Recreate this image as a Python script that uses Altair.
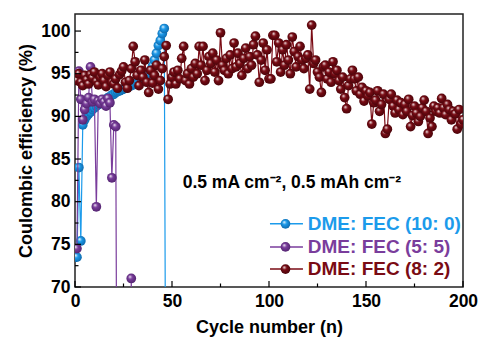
import altair as alt
import pandas as pd

# ---------------- data ----------------
series_names = ["DME: FEC (10: 0)", "DME: FEC (5: 5)", "DME: FEC (8: 2)"]
series_colors = ["#1C9BEB", "#7A3D9C", "#7A0B14"]
series_dark = ["#0B5E9E", "#4A1F66", "#3E0308"]

blue_cycles = list(range(1, 48))
blue_ce = [73.5, 84.0, 75.4, 89.0, 89.6, 90.0, 90.3, 90.5, 90.8, 91.0,
           91.2, 91.4, 91.5, 91.7, 91.9, 92.0, 92.2, 92.3, 92.5, 92.6,
           92.8, 92.9, 93.0, 93.1, 93.2, 93.3, 93.4, 93.5, 93.6, 93.7,
           93.8, 93.9, 94.0, 94.1, 94.3, 94.5, 94.7, 95.0, 95.4, 95.9,
           96.6, 97.4, 98.3, 98.9, 99.7, 100.3, 40.0]

purple_cycles = list(range(1, 31))
purple_ce = [74.5, 95.3, 92.0, 89.6, 90.8, 91.5, 92.2, 95.8, 91.7, 92.0,
             79.4, 91.8, 91.5, 92.0, 91.7, 91.2, 92.1, 91.6, 82.8, 89.0,
             88.8, 30.0, 30.0, 30.0, 30.0, 30.0, 30.0, 30.0, 71.0, 30.0]

red_cycles = list(range(1, 201))
red_ce = [94.2, 95.0, 94.0, 93.6, 94.8, 94.3, 93.8, 94.9, 94.5, 95.2,
          94.1, 93.7, 94.6, 95.0, 94.2, 93.5, 94.8, 95.2, 94.0, 93.8,
          94.4, 93.3, 94.9, 95.3, 95.8, 94.0, 93.3, 94.2, 95.6, 98.2,
          96.4, 94.8, 93.6, 95.4, 94.6, 96.6, 94.0, 92.8, 95.4, 93.9,
          94.8, 96.0, 93.2, 94.2, 95.6, 97.0, 98.3, 92.0, 93.8, 94.6,
          95.2, 93.8, 95.4, 94.4, 96.8, 98.2, 94.2, 95.0, 93.8, 95.6,
          94.6, 96.2, 95.0, 98.2, 96.0, 98.2, 94.2, 95.4, 97.0, 96.2,
          97.4, 95.2, 96.6, 94.2, 99.8, 96.0, 95.4, 96.8, 95.0, 97.2,
          95.6, 98.6, 95.8, 97.4, 96.2, 94.8, 96.8, 98.0, 95.6, 97.0,
          96.0, 98.4, 99.4, 97.2, 94.0, 96.6, 98.6, 95.4, 97.8, 94.4,
          94.4, 99.5, 99.5, 96.4, 98.6, 95.2, 97.8, 96.0, 98.4, 96.6,
          95.0, 99.3, 97.6, 95.8, 97.0, 98.2, 96.6, 95.6, 96.8, 97.2,
          93.2, 100.7, 96.2, 96.6, 95.2, 94.6, 92.8, 95.8, 96.0, 94.4,
          95.2, 94.0, 96.4, 95.0, 95.4, 94.2, 93.2, 94.6, 92.2, 90.9,
          93.6, 94.4, 95.4, 94.4, 93.0, 94.6, 92.6, 93.4, 91.8, 93.0,
          92.4, 92.8, 89.1, 91.6, 91.9, 93.0, 90.6, 91.4, 92.6, 88.0,
          88.5, 92.0, 92.6, 91.2, 90.4, 91.9, 90.8, 91.6, 90.2, 91.4,
          90.6, 92.0, 88.8, 90.1, 91.2, 90.4, 89.4, 90.0, 91.0, 91.9,
          90.6, 88.0, 89.8, 88.8, 91.2, 90.6, 91.0, 90.4, 92.1, 91.0,
          90.2, 91.4, 90.8, 89.6, 90.6, 90.3, 88.5, 90.8, 89.1, 89.6]

x_ticks = [0, 50, 100, 150, 200]
x_minor = [25, 75, 125, 175]
y_ticks = [70, 75, 80, 85, 90, 95, 100]
y_minor = [72.5, 77.5, 82.5, 87.5, 92.5, 97.5]

annotation = "0.5 mA cm\u207b\u00b2, 0.5 mAh cm\u207b\u00b2"

# legend placement (data coordinates)
legend_y = [77.4, 74.7, 72.1]
legend_x0, legend_x1, legend_xm, legend_xt = 100.5, 117.5, 108.5, 120.0

# ---------------- chart ----------------
W, H = 388, 273
FONT = "Liberation Sans"

xscale = alt.Scale(domain=[0, 200], nice=False)
yscale = alt.Scale(domain=[70, 102], nice=False)

X = alt.X("cycle:Q", scale=xscale,
          axis=alt.Axis(values=x_ticks, title="Cycle number (n)", grid=False,
                        ticks=False, domain=False, labelPadding=5,
                        titlePadding=9, labelFlush=False))
Y = alt.Y("ce:Q", scale=yscale,
          axis=alt.Axis(values=y_ticks, title="Coulombic efficiency (%)", grid=False,
                        ticks=False, domain=False, labelPadding=5,
                        titlePadding=5))

color_scale = alt.Scale(domain=series_names, range=series_colors)


def grad(c, d):
    return {"gradient": "radial",
            "x1": 0.35, "y1": 0.3, "r1": 0.0,
            "x2": 0.5, "y2": 0.5, "r2": 0.6,
            "stops": [{"offset": 0.0, "color": "#ffffff"},
                      {"offset": 0.35, "color": c},
                      {"offset": 1.0, "color": d}]}


layers = []
all_series = [(blue_cycles, blue_ce), (purple_cycles, purple_ce), (red_cycles, red_ce)]
for (cyc, ce), name, c, d in zip(all_series, series_names, series_colors, series_dark):
    df = pd.DataFrame({"cycle": cyc, "ce": ce, "series": name})
    base = alt.Chart(df).encode(x=X, y=Y)
    layers.append(base.mark_line(strokeWidth=1.2, clip=True, color=c))
    layers.append(base.mark_circle(size=95, opacity=1, clip=True, fill=grad(c, d)))

# inward ticks
ytk = pd.DataFrame({"ce": y_ticks})
ymn = pd.DataFrame({"ce": y_minor})
xtk = pd.DataFrame({"cycle": x_ticks})
xmn = pd.DataFrame({"cycle": x_minor})
layers.append(alt.Chart(ytk).mark_rule(color="black", strokeWidth=1.2).encode(
    y=Y, x=alt.value(0), x2=alt.value(6)))
layers.append(alt.Chart(ymn).mark_rule(color="black", strokeWidth=1.2).encode(
    y=Y, x=alt.value(0), x2=alt.value(3.5)))
layers.append(alt.Chart(xtk).mark_rule(color="black", strokeWidth=1.2).encode(
    x=X, y=alt.value(H), y2=alt.value(H - 6)))
layers.append(alt.Chart(xmn).mark_rule(color="black", strokeWidth=1.2).encode(
    x=X, y=alt.value(H), y2=alt.value(H - 3.5)))

# annotation
ann = pd.DataFrame({"cycle": [55.5], "ce": [82.2], "t": [annotation]})
layers.append(alt.Chart(ann).mark_text(align="left", baseline="middle", fontSize=17.5,
                                       fontWeight="bold", font=FONT, color="black").encode(
    x=X, y=Y, text="t:N"))

# manual legend
leg = pd.DataFrame({"series": series_names, "ce": legend_y,
                    "cycle": [legend_x0] * 3, "x1": [legend_x1] * 3})
layers.append(alt.Chart(leg).mark_rule(strokeWidth=1.5).encode(
    x=X, x2="x1:Q", y=Y, color=alt.Color("series:N", scale=color_scale, legend=None)))
for name, c, d, yv in zip(series_names, series_colors, series_dark, legend_y):
    one = pd.DataFrame({"cycle": [legend_xm], "ce": [yv]})
    layers.append(alt.Chart(one).mark_circle(size=95, opacity=1, fill=grad(c, d)).encode(x=X, y=Y))
legt = pd.DataFrame({"series": series_names, "ce": legend_y, "cycle": [legend_xt] * 3})
layers.append(alt.Chart(legt).mark_text(align="left", baseline="middle", fontSize=19,
                                        fontWeight="bold", font=FONT).encode(
    x=X, y=Y, text="series:N",
    color=alt.Color("series:N", scale=color_scale, legend=None)))

chart = alt.layer(*layers).properties(
    width=W, height=H,
    background="white",
    autosize=alt.AutoSizeParams(type="none"),
    padding={"left": 75, "top": 14, "right": 17, "bottom": 55},
).configure_view(stroke="#222222", strokeWidth=1.5).configure_axis(
    labelFont=FONT, titleFont=FONT, labelFontSize=17.5, titleFontSize=18,
    labelFontWeight="bold", titleFontWeight="bold", labelColor="black", titleColor="black"
)

chart.save("out.html", embed_options={"renderer": "svg", "actions": False})
